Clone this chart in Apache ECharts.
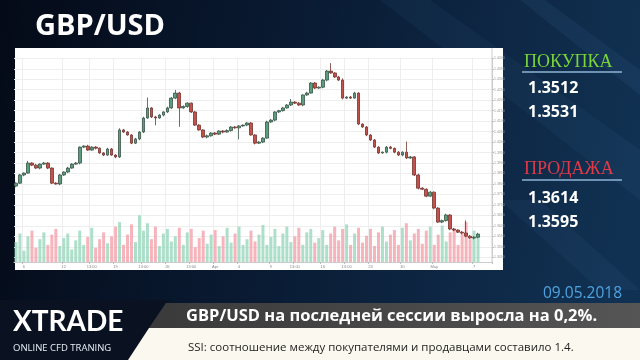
<!DOCTYPE html>
<html><head><meta charset="utf-8">
<script src="https://cdn.jsdelivr.net/npm/echarts@6/dist/echarts.min.js"></script>
<style>html,body{margin:0;padding:0;background:#071326}#c{width:640px;height:360px}</style>
</head><body><div id="c"></div>
<script>
// ---- data (4H-like candles, GBP/USD) ----
const firstOpen = 1.3790;
const closes = [
 1.3804,1.3843,1.3852,1.3900,1.3890,1.3876,1.3895,1.3900,1.3876,1.3804,
 1.3800,1.3843,1.3857,1.3876,1.3895,1.3900,1.3976,1.3981,1.3962,1.3976,
 1.3971,1.3948,1.3938,1.3967,1.3938,1.3929,1.4058,1.4048,1.4034,1.3995,
 1.4015,1.4048,1.4115,1.4163,1.4120,1.4115,1.4129,1.4144,1.4163,1.4210,
 1.4234,1.4163,1.4170,1.4186,1.4144,1.4081,1.4058,1.4024,1.4030,1.4043,
 1.4038,1.4053,1.4048,1.4055,1.4072,1.4068,1.4077,1.4081,1.4091,1.4034,
 1.3995,1.4000,1.4019,1.4096,1.4105,1.4144,1.4150,1.4163,1.4177,1.4191,
 1.4186,1.4177,1.4225,1.4234,1.4282,1.4258,1.4262,1.4296,1.4339,1.4330,
 1.4311,1.4296,1.4210,1.4215,1.4210,1.4234,1.4086,1.4072,1.4034,1.4010,
 1.3976,1.3948,1.3952,1.3976,1.3970,1.3952,1.3938,1.3952,1.3924,1.3929,
 1.3843,1.3780,1.3775,1.3742,1.3761,1.3685,1.3618,1.3625,1.3652,1.3585,
 1.3580,1.3570,1.3566,1.3551,1.3542,1.3546,1.3561
];
// wick lengths beyond the body, in pips
const wickUp = [
 4,5,3,10,4,6,3,5,4,3,
 5,4,3,6,4,5,3,4,6,4,
 5,3,4,6,5,4,8,5,4,3,
 5,4,6,50,4,5,4,3,6,5,
 15,6,5,4,3,5,4,3,6,4,
 5,3,4,6,4,5,4,3,5,4,
 3,5,4,6,5,3,4,5,4,15,
 4,5,3,6,4,5,4,6,5,38,
 4,5,8,4,5,6,4,3,5,4,
 5,4,3,5,6,4,5,4,50,5,
 4,6,5,4,5,3,4,5,6,4,
 5,4,6,60,5,4,6
];
const wickDown = [
 5,4,6,3,5,4,6,3,5,4,
 3,6,4,5,3,4,6,5,4,3,
 6,4,5,3,4,6,5,4,3,5,
 4,6,5,4,5,35,4,6,5,4,
 5,90,4,6,5,4,3,5,6,4,
 5,4,6,3,5,4,55,4,5,3,
 6,4,5,3,4,6,5,4,3,5,
 4,5,6,4,3,5,4,5,6,4,
 5,4,6,5,4,3,5,4,6,5,
 4,5,3,6,4,5,4,6,5,4,
 5,6,4,5,3,6,4,5,4,6,
 5,4,6,5,4,6,5
];
const volumes = [
 35,50,20,45,55,25,40,52,30,48,
 58,28,42,50,22,38,55,30,44,60,
 25,40,52,33,45,62,70,30,48,66,
 35,82,55,68,40,62,28,50,58,36,
 45,60,30,52,58,26,42,55,32,48,
 56,28,45,60,34,50,62,30,40,55,
 36,48,65,30,44,58,28,50,62,35,
 45,60,30,52,58,34,42,56,30,50,
 62,38,58,66,30,50,60,34,46,58,
 28,52,62,36,48,56,30,60,68,38,
 50,58,32,55,62,30,48,64,36,52,
 58,30,50,70,40,55,45
];
const tickIdx    = [2,12,19,25,32,38,44,50,56,64,70,77,83,89,97,105,115];
const tickLabels = ["6","12","13:00","19","13:00","26","13:00","Apr","4","9","13:00","16","13:00","23","30","May","7"];
const priceMin = 1.345, priceMax = 1.440, priceStep = 0.005;
const buyQuotes  = ["1.3512","1.3531"];
const sellQuotes = ["1.3614","1.3595"];

// ---- build ----
const slotCount = 120;
const cats = Array.from({length: slotCount}, (_, i) => String(i));
const opens = closes.map((c, i) => i === 0 ? firstOpen : closes[i - 1]);
const ohlc = closes.map((c, i) => {
  const o = opens[i];
  return [o, c, Math.min(o, c) - wickDown[i] * 1e-4, Math.max(o, c) + wickUp[i] * 1e-4];
});
const volData = volumes.map((v, i) => ({
  value: v,
  itemStyle: { color: closes[i] >= opens[i] ? 'rgba(140,210,180,0.7)' : 'rgba(242,150,160,0.7)' }
}));
const isTick = (i) => tickIdx.indexOf(i) >= 0;

const txt = (x, y, text, size, color, weight, family, align) => ({
  type: 'text', x: x, y: y, z: 20,
  style: { text: text, fill: color, fontSize: size, fontWeight: weight || 'normal',
           fontFamily: family || '"Open Sans"', verticalAlign: 'middle', align: align || 'left' }
});

const chart = echarts.init(document.getElementById('c'));
chart.setOption({
  animation: false,
  backgroundColor: { type: 'linear', x: 0, y: 0, x2: 1, y2: 0.35,
    colorStops: [{offset: 0, color: '#040a17'}, {offset: 0.5, color: '#0a1c35'}, {offset: 1, color: '#113152'}] },
  graphic: { elements: [
    { type: 'polygon', z: -9, shape: { points: [[380,0],[430,0],[640,150],[640,200]] }, style: { fill: 'rgba(90,150,210,0.06)' } },
    { type: 'polygon', z: -9, shape: { points: [[520,0],[545,0],[640,70],[640,95]] }, style: { fill: 'rgba(110,170,230,0.07)' } },
    { type: 'polygon', z: -9, shape: { points: [[500,200],[540,200],[640,290],[600,290]] }, style: { fill: 'rgba(110,170,230,0.05)' } },
    { type: 'rect', z: -5, shape: { x: 15, y: 48, width: 488, height: 222 }, style: { fill: '#ffffff' } },
    { type: 'line', z: 5, shape: { x1: 492, y1: 48, x2: 492, y2: 262 }, style: { stroke: '#cccccc', lineWidth: 1 } },
    // bottom area
    { type: 'polygon', z: -4, shape: { points: [[0,300],[170,300],[128,360],[0,360]] }, style: { fill: '#0a1222' } },
    { type: 'polygon', z: -3, shape: { points: [[166,303],[640,303],[640,328],[149,328]] },
      style: { fill: { type: 'linear', x: 0, y: 0, x2: 1, y2: 0, colorStops: [{offset: 0, color: '#3a3a3a'}, {offset: 1, color: '#555555'}] } } },
    { type: 'polygon', z: -3, shape: { points: [[149,328],[640,328],[640,360],[128,360]] }, style: { fill: '#fbf8ef' } },
    // title and texts
    txt(35, 27, 'GBP/USD', 29, '#ffffff', 'bold'),
    txt(524, 62, 'ПОКУПКА', 18, '#79d43a', 'normal', '"Liberation Serif"'),
    { type: 'line', z: 20, shape: { x1: 522, y1: 72, x2: 622, y2: 72 }, style: { stroke: '#8fb4d6', lineWidth: 1.5 } },
    txt(528, 88, buyQuotes[0], 16, '#ffffff', 'bold'),
    txt(528, 112, buyQuotes[1], 16, '#ffffff', 'bold'),
    txt(524, 169, 'ПРОДАЖА', 18, '#e03a48', 'normal', '"Liberation Serif"'),
    { type: 'line', z: 20, shape: { x1: 522, y1: 180, x2: 622, y2: 180 }, style: { stroke: '#8fb4d6', lineWidth: 1.5 } },
    txt(528, 198, sellQuotes[0], 16, '#ffffff', 'bold'),
    txt(528, 222, sellQuotes[1], 16, '#ffffff', 'bold'),
    txt(543, 294, '09.05.2018', 15.5, '#4fa3e0', 'normal'),
    txt(186, 316, 'GBP/USD на последней сессии выросла на 0,2%.', 16.5, '#ffffff', 'bold'),
    txt(188, 348, 'SSI: соотношение между покупателями и продавцами составило 1.4.', 11.5, '#1e1e1e', 'normal'),
    txt(13, 322, 'XTRADE', 28, '#ffffff', 'bold', 'Lato'),
    txt(13, 348, 'ONLINE CFD TRANING', 9.5, '#e8eef5', 'normal')
  ]},
  grid: [
    { left: 14, width: 478, top: 58.3, height: 199 },
    { left: 14, width: 478, top: 205, height: 57 }
  ],
  xAxis: [
    { type: 'category', gridIndex: 0, data: cats, axisLine: { show: false }, axisTick: { show: false },
      axisLabel: { show: false }, splitLine: { show: true, interval: isTick, lineStyle: { color: '#eeeeee' } } },
    { type: 'category', gridIndex: 1, data: cats, axisLine: { lineStyle: { color: '#cccccc' } },
      axisTick: { show: true, interval: isTick, length: 2, lineStyle: { color: '#bbbbbb' } },
      axisLabel: { interval: isTick, fontSize: 4, color: '#888888', margin: 3,
        formatter: (v, i) => { const k = tickIdx.indexOf(i); return k >= 0 ? tickLabels[k] : ''; } },
      splitLine: { show: true, interval: isTick, lineStyle: { color: '#eeeeee' } } }
  ],
  yAxis: [
    { type: 'value', gridIndex: 0, position: 'right', min: priceMin, max: priceMax, interval: priceStep,
      axisLine: { show: true, lineStyle: { color: '#cccccc' } },
      axisTick: { show: true, length: 2, lineStyle: { color: '#bbbbbb' } },
      axisLabel: { fontSize: 3.5, color: '#999999', margin: 2, formatter: v => v.toFixed(4) },
      splitLine: { lineStyle: { color: '#eeeeee' } } },
    { type: 'value', gridIndex: 1, position: 'right', min: 0, max: 100, show: false }
  ],
  series: [
    { type: 'bar', xAxisIndex: 1, yAxisIndex: 1, data: volData, barWidth: 3, z: 1 },
    { type: 'candlestick', xAxisIndex: 0, yAxisIndex: 0, data: ohlc, barWidth: 3.2, z: 3,
      itemStyle: { color: '#5a9e7e', color0: '#c4524c', borderColor: '#3a5447', borderColor0: '#73332f', borderWidth: 0.8 } }
  ]
});
</script></body></html>
